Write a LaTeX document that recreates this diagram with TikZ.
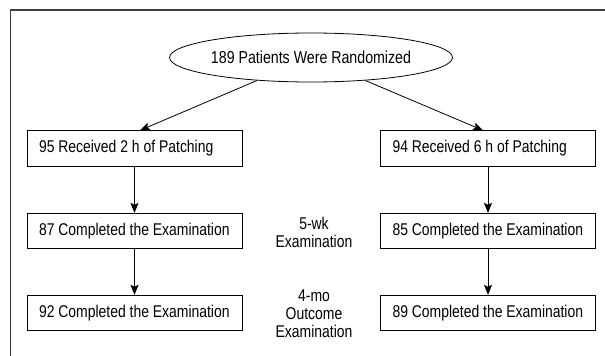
\documentclass[tikz,border=0pt]{standalone}
\usepackage{fontspec}
\setmainfont{Liberation Sans}[FakeStretch=0.82]
\usetikzlibrary{shapes.geometric,arrows.meta}
\newcommand{\boxtext}[1]{\makebox[191pt][l]{#1}}
\tikzset{
  box/.style={draw=black, line width=0.8pt, rectangle, minimum width=215pt, minimum height=35.5pt,
    inner xsep=12pt, inner ysep=0pt, font=\fontsize{17}{18}\selectfont},
  oval/.style={draw=black, line width=0.8pt, ellipse, minimum width=248pt, minimum height=49pt, inner sep=0pt,
    font=\fontsize{17.3}{18}\selectfont},
  lbl/.style={align=center, font=\fontsize{17}{18}\selectfont, inner sep=0pt},
  arr/.style={line width=0.8pt, -{Stealth[length=10pt,width=8pt,inset=2pt]}},
  frameline/.style={draw=black!75, line width=1.8pt}
}
\begin{document}
\begin{tikzpicture}[x=1pt,y=-1pt]
\useasboundingbox (0,0) rectangle (605,356);
\draw[frameline] (10.5,356) -- (10.5,10) -- (605,10);
\node[oval] (e) at (311,57.5) {189 Patients Were Randomized};
\node[box] (l1) at (134.5,148.5) {\boxtext{95 Received 2 h of Patching}};
\node[box] (r1) at (488,148.5) {\boxtext{94 Received 6 h of Patching}};
\node[box] (l2) at (134.5,231) {\boxtext{87 Completed the Examination}};
\node[box] (r2) at (488,231) {\boxtext{85 Completed the Examination}};
\node[box] (l3) at (134.5,313) {\boxtext{92 Completed the Examination}};
\node[box] (r3) at (488,313) {\boxtext{89 Completed the Examination}};
\node[lbl] (t1) at (314,232) {5-wk\\Examination};
\node[lbl] (t2) at (314,314) {4-mo\\Outcome\\Examination};
\draw[arr] (e) -- ([xshift=5.5pt]l1.north);
\draw[arr] (e) -- ([xshift=-5pt]r1.north);
\draw[arr] (l1) -- (l2);
\draw[arr] (l2) -- (l3);
\draw[arr] (r1) -- (r2);
\draw[arr] (r2) -- (r3);
\end{tikzpicture}
\end{document}
